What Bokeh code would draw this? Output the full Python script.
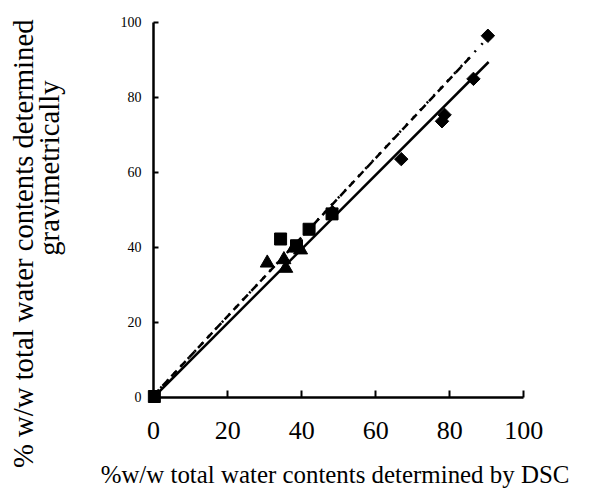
import math
from bokeh.plotting import figure
from bokeh.models import Range1d, FixedTicker, LinearAxis, Title
from bokeh.embed import file_html
from bokeh.resources import INLINE

# ---- data ----
diamond_x = [90.3, 86.4, 78.6, 77.9, 66.9, 48.3]
diamond_y = [96.4, 84.9, 75.3, 73.6, 63.5, 49.4]
square_x = [0.2, 34.3, 38.6, 42.0, 48.2]
square_y = [0.2, 42.2, 40.4, 44.8, 48.9]
triangle_x = [30.7, 35.2, 35.7, 37.9, 39.7]
triangle_y = [35.8, 36.7, 34.4, 39.8, 39.3]

solid_x = [0, 90.5]
solid_y = [0, 89.4]
dash_x = [0, 86.0]
dash_y = [0.5, 91.2]
dot_x = [0, 89.0]
dot_y = [0.5, 94.5]

x_ticks = [0, 20, 40, 60, 80, 100]
y_ticks = [0, 20, 40, 60, 80, 100]

x_title = "%w/w total water contents determined by DSC"
y_title_1 = "% w/w total water contents determined"
y_title_2 = "gravimetrically"

FONT = "Liberation Serif"
W, H = 585, 490

p = figure(width=W, height=H, output_backend="svg", toolbar_location=None,
           x_range=Range1d(-3, 101), y_range=Range1d(-2.2, 101),
           min_border_left=142, min_border_right=58,
           min_border_top=18, min_border_bottom=84)
p.background_fill_color = "white"
p.border_fill_color = "white"
p.outline_line_color = None
p.grid.visible = False

# edge axes: only the tick labels (and the x title)
for ax in (p.xaxis, p.yaxis):
    ax.axis_line_color = None
    ax.major_tick_line_color = None
    ax.minor_tick_line_color = None
    ax.major_tick_in = 0
    ax.major_tick_out = 0
    ax.major_label_text_font = FONT
    ax.major_label_text_color = "black"
p.xaxis.ticker = FixedTicker(ticks=x_ticks)
p.yaxis.ticker = FixedTicker(ticks=y_ticks)
p.xaxis.major_label_text_font_size = "26px"
p.yaxis.major_label_text_font_size = "14px"
p.xaxis.major_label_standoff = 16
p.yaxis.major_label_standoff = 1
p.xaxis.axis_label = x_title
p.xaxis.axis_label_text_font = FONT
p.xaxis.axis_label_text_font_style = "normal"
p.xaxis.axis_label_text_font_size = "24.9px"
p.xaxis.axis_label_text_color = "black"
p.xaxis.axis_label_standoff = 19

# axes through the origin: line and ticks only
def origin_axis(ticks, tick_len):
    ax = LinearAxis(ticker=FixedTicker(ticks=ticks), fixed_location=0, bounds=(0, 100))
    ax.axis_line_width = 2.5
    ax.axis_line_color = "black"
    ax.major_tick_line_width = 2
    ax.major_tick_line_color = "black"
    ax.minor_tick_line_color = None
    ax.major_tick_in = 0
    ax.major_tick_out = tick_len
    ax.major_label_text_font_size = "1px"
    ax.major_label_text_color = None
    ax.major_label_standoff = 0
    return ax

p.add_layout(origin_axis(x_ticks, 7), "above")
p.add_layout(origin_axis(y_ticks, 5), "right")

# invisible spacer between the y tick labels and the y titles
spacer = LinearAxis(ticker=FixedTicker(ticks=[50]), axis_line_color=None,
                    major_tick_line_color=None, minor_tick_line_color=None,
                    major_tick_in=0, major_tick_out=54, major_label_standoff=0,
                    major_label_text_color=None, major_label_text_font_size="1px")
p.add_layout(spacer, "left")

# lines
p.line(solid_x, solid_y, line_color="black", line_width=2.5)
p.line(dash_x, dash_y, line_color="black", line_width=2.5, line_dash="8 5")
p.line(dot_x, dot_y, line_color="black", line_width=2.5, line_dash="2 8")

# markers
p.scatter(diamond_x, diamond_y, marker="square", size=9.5, angle=math.pi / 4,
          fill_color="black", line_color="black")
p.scatter(square_x, square_y, marker="square", size=12,
          fill_color="black", line_color="black")
p.scatter(triangle_x, triangle_y, marker="triangle", size=14,
          fill_color="black", line_color="black")

# y titles (two lines), reading bottom to top
t2 = Title(text=y_title_2, align="right", offset=62, text_font=FONT,
           text_font_size="28.7px", text_font_style="normal", text_color="black",
           standoff=-2)
t1 = Title(text=y_title_1, align="right", offset=1, text_font=FONT,
           text_font_size="28.7px", text_font_style="normal", text_color="black",
           standoff=-14)
p.add_layout(t2, "left")
p.add_layout(t1, "left")

open("out.html", "w").write(file_html(p, INLINE))
